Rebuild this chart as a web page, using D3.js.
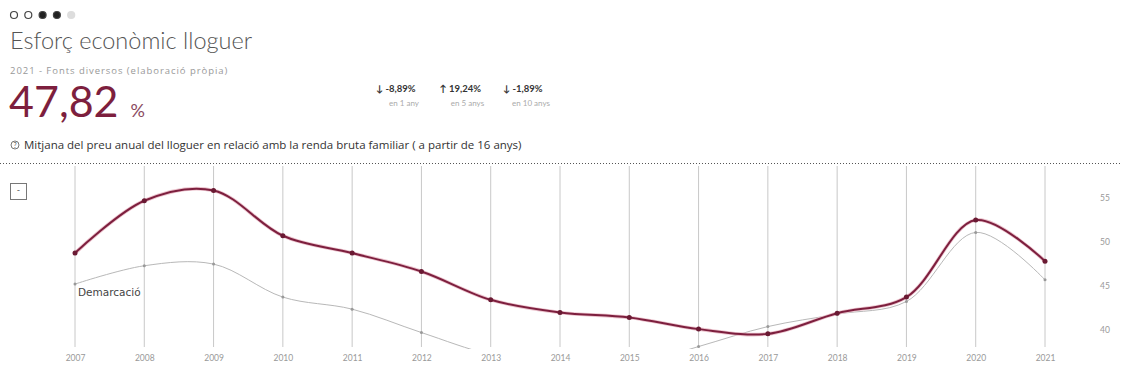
<!DOCTYPE html>
<html>
<head>
<meta charset="utf-8">
<style>
  body { margin: 0; background: #fff; font-family: Lato, 'Open Sans', sans-serif; }
  svg { display: block; }
</style>
</head>
<body>
<svg id="chart" width="1121" height="374"></svg>
<script src="https://d3js.org/d3.v7.min.js"></script>
<script>
// data
let years = [2007, 2008, 2009, 2010, 2011, 2012, 2013, 2014, 2015, 2016, 2017, 2018, 2019, 2020, 2021]
let municipi = [48.74, 54.69, 55.86, 50.71, 48.74, 46.65, 43.43, 41.99, 41.42, 40.10, 39.56, 41.91, 43.74, 52.49, 47.82]
let demarcacio = [45.22, 47.30, 47.49, 43.74, 42.37, 39.71, 37.2, 36.1, 35.9, 38.12, 40.39, 41.80, 43.24, 51.09, 45.70]
let yTicks = [40, 45, 50, 55]
let changes = [
  { arrow: "\u2193", txt: "-8,89%", sub: "en 1 any" },
  { arrow: "\u2191", txt: "19,24%", sub: "en 5 anys" },
  { arrow: "\u2193", txt: "-1,89%", sub: "en 10 anys" }
]
let pager = ["open", "open", "full", "full", "light"]

let maroon = "#7d1f3e"
let svg = d3.select("#chart")

// pager dots
svg.selectAll(".pg")
  .data(pager)
  .join("circle")
  .attr("cx", (d, i) => 14 + i * 14.3)
  .attr("cy", 15)
  .attr("r", 3.5)
  .style("fill", d => d == "full" ? "#222" : d == "light" ? "#ddd" : "#fff")
  .style("stroke", d => d == "light" ? "#ddd" : "#444")
  .style("stroke-width", 1.2)

svg.append("text")
  .attr("x", 10).attr("y", 49)
  .style("font-size", "23.5px").style("font-weight", 300)
  .style("fill", "#555")
  .text("Esforç econòmic lloguer")

svg.append("text")
  .attr("x", 10).attr("y", 74)
  .style("font-family", "'Open Sans', sans-serif")
  .style("font-size", "9.5px").style("letter-spacing", "0.95px").style("fill", "#999")
  .text("2021 - Fonts diversos (elaboració pròpia)")

let big = svg.append("text")
  .attr("x", 9).attr("y", 117)
  .style("fill", maroon)
big.append("tspan").style("font-size", "43px").text("47,82")
big.append("tspan").attr("dx", 12).style("font-size", "18px").style("fill", "#8a4a60").text("%")

// variation block
let ch = svg.selectAll(".chg")
  .data(changes)
  .join("g")
  .attr("transform", (d, i) => `translate(${376 + i * 63.5},0)`)
ch.append("text")
  .attr("y", 92)
  .style("font-size", "9.5px").style("fill", "#333").style("font-weight", 700)
  .text(d => d.arrow + " " + d.txt)
ch.append("text")
  .attr("x", 28).attr("y", 106)
  .attr("text-anchor", "middle")
  .style("font-size", "8px").style("fill", "#aaa")
  .text(d => d.sub)

// description
svg.append("circle").attr("cx", 15).attr("cy", 145).attr("r", 4)
  .style("fill", "none").style("stroke", "#555").style("stroke-width", 0.8)
svg.append("text").attr("x", 15).attr("y", 147.5).attr("text-anchor", "middle")
  .style("font-size", "7px").style("fill", "#555").text("?")
svg.append("text")
  .attr("x", 24).attr("y", 149)
  .style("font-family", "'Open Sans', sans-serif")
  .style("font-size", "11.5px").style("fill", "#333")
  .text("Mitjana del preu anual del lloguer en relació amb la renda bruta familiar ( a partir de 16 anys)")

svg.append("line")
  .attr("x1", 0).attr("x2", 1121).attr("y1", 163.5).attr("y2", 163.5)
  .style("stroke", "#555").style("stroke-dasharray", "1,2").style("stroke-width", 1)

// small toggle box
svg.append("rect").attr("x", 10.5).attr("y", 183.5).attr("width", 16).attr("height", 16)
  .style("fill", "#fff").style("stroke", "#777")
svg.append("text").attr("x", 18.5).attr("y", 193).attr("text-anchor", "middle")
  .style("font-size", "9px").style("fill", "#555").text("-")

// scales
let x = d3.scalePoint().domain(years).range([75, 1045])
let y = d3.scaleLinear().domain([40, 55]).range([330, 198])

// grid
svg.selectAll(".vgrid")
  .data(years)
  .join("line")
  .attr("x1", d => x(d)).attr("x2", d => x(d))
  .attr("y1", 166).attr("y2", 347)
  .style("stroke", "#c8c8c8").style("stroke-width", 1)

let xAxis = svg.append("g")
  .attr("transform", "translate(0,349)")
  .call(d3.axisBottom(x).tickSize(0).tickPadding(6))
xAxis.select(".domain").remove()
xAxis.selectAll("text").style("font-family", "Lato, sans-serif").style("font-size", "8.5px").style("fill", "#999")

let yAxis = svg.append("g")
  .attr("transform", "translate(1100,0)")
  .call(d3.axisRight(y).tickValues(yTicks).tickSize(0).tickPadding(0))
yAxis.select(".domain").remove()
yAxis.selectAll("text").style("font-family", "Lato, sans-serif").style("font-size", "8.5px").style("fill", "#999")

// clip plot area
svg.append("clipPath").attr("id", "plot")
  .append("rect").attr("x", 0).attr("y", 166).attr("width", 1121).attr("height", 183)

let line = d3.line()
  .x((d, i) => x(years[i]))
  .y(d => y(d))
  .curve(d3.curveCatmullRom.alpha(0.5))

let plot = svg.append("g").attr("clip-path", "url(#plot)")

plot.append("path")
  .datum(demarcacio)
  .attr("d", line)
  .style("fill", "none").style("stroke", "#b8b8b8").style("stroke-width", 1)
plot.selectAll(".dpt")
  .data(demarcacio)
  .join("circle")
  .attr("cx", (d, i) => x(years[i])).attr("cy", d => y(d)).attr("r", 1.5)
  .style("fill", "#999")

plot.append("path")
  .datum(municipi)
  .attr("d", line)
  .style("fill", "none").style("stroke", "#ecc4ce").style("stroke-width", 3.6)
plot.append("path")
  .datum(municipi)
  .attr("d", line)
  .style("fill", "none").style("stroke", maroon).style("stroke-width", 2)
plot.selectAll(".mpt")
  .data(municipi)
  .join("circle")
  .attr("cx", (d, i) => x(years[i])).attr("cy", d => y(d)).attr("r", 2.5)
  .style("fill", "#6a1a33")

svg.append("text")
  .attr("x", 78).attr("y", 296)
  .style("font-family", "'DejaVu Sans', sans-serif")
  .style("font-size", "10.5px").style("fill", "#444")
  .text("Demarcació")
</script>
</body>
</html>
